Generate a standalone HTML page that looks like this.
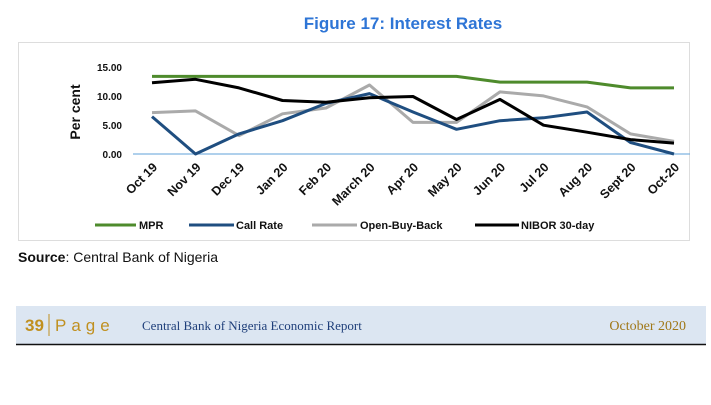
<!DOCTYPE html>
<html><head><meta charset="utf-8"><style>
body{margin:0;width:711px;height:400px;background:#fff;overflow:hidden;font-family:"Liberation Sans",sans-serif;}
</style></head><body>
<svg width="711" height="400" xmlns="http://www.w3.org/2000/svg" font-family="Liberation Sans, sans-serif">
<text x="403" y="29" text-anchor="middle" font-size="17" font-weight="bold" fill="#2e75d6">Figure 17: Interest Rates</text>
<rect x="18.5" y="42.5" width="671" height="198" fill="#fff" stroke="#ddd"/>
<g font-size="10" font-weight="bold" fill="#111" text-anchor="end">
<text x="122" y="71">15.00</text><text x="122" y="100">10.00</text><text x="122" y="129">5.00</text><text x="122" y="158">0.00</text>
</g>
<text transform="translate(80,112) rotate(-90)" text-anchor="middle" font-size="14" font-weight="bold" fill="#111">Per cent</text>
<line x1="133" y1="154" x2="690" y2="154" stroke="#7fb3e0" stroke-width="1.2"/>
<g fill="none" stroke-width="3" stroke-linejoin="round">
<polyline stroke="#4e8b2c" points="152,76.4 195.5,76.4 239,76.4 282.5,76.4 326,76.4 369.5,76.4 413,76.4 456.5,76.4 500,82.1 543.5,82.1 587,82.1 630.5,87.9 674,87.9"/>
<polyline stroke="#aaa" points="152,112.6 195.5,110.9 239,135.6 282.5,113.8 326,108 369.5,85 413,122.4 456.5,122.4 500,91.9 543.5,95.9 587,106.9 630.5,133.9 674,141.4"/>
<polyline stroke="#1f4e80" points="152,116.6 195.5,154 239,133.9 282.5,120.7 326,103.4 369.5,93.6 413,112 456.5,129.3 500,120.7 543.5,117.8 587,112 630.5,142.5 674,154"/>
<polyline stroke="#000" points="152,82.7 195.5,79.3 239,87.9 282.5,100.5 326,102.3 369.5,97.7 413,96.5 456.5,119.5 500,99.4 543.5,125.2 587,132.2 630.5,139.6 674,143.1"/>
</g>
<g font-size="12.5" font-weight="bold" fill="#111" text-anchor="end">
<text transform="translate(158,168) rotate(-45)">Oct 19</text>
<text transform="translate(201.5,168) rotate(-45)">Nov 19</text>
<text transform="translate(245,168) rotate(-45)">Dec 19</text>
<text transform="translate(288.5,168) rotate(-45)">Jan 20</text>
<text transform="translate(332,168) rotate(-45)">Feb 20</text>
<text transform="translate(375.5,168) rotate(-45)">March 20</text>
<text transform="translate(419,168) rotate(-45)">Apr 20</text>
<text transform="translate(462.5,168) rotate(-45)">May 20</text>
<text transform="translate(506,168) rotate(-45)">Jun 20</text>
<text transform="translate(549.5,168) rotate(-45)">Jul 20</text>
<text transform="translate(593,168) rotate(-45)">Aug 20</text>
<text transform="translate(636.5,168) rotate(-45)">Sept 20</text>
<text transform="translate(680,168) rotate(-45)">Oct-20</text>
</g>
<g stroke-width="3">
<line x1="95" y1="225" x2="136" y2="225" stroke="#4e8b2c"/>
<line x1="189" y1="225" x2="234" y2="225" stroke="#1f4e80"/>
<line x1="312" y1="225" x2="357" y2="225" stroke="#aaa"/>
<line x1="475" y1="225" x2="519" y2="225" stroke="#000"/>
</g>
<g font-size="11" font-weight="bold" fill="#111">
<text x="139" y="229">MPR</text><text x="236" y="229">Call Rate</text><text x="360" y="229">Open-Buy-Back</text><text x="521" y="229">NIBOR 30-day</text>
</g>
<text x="18" y="262" font-size="14" fill="#111"><tspan font-weight="bold">Source</tspan>: Central Bank of Nigeria</text>
<rect x="16" y="306" width="690" height="38" fill="#dce6f2"/>
<line x1="16" y1="344.5" x2="706" y2="344.5" stroke="#111" stroke-width="1.5"/>
<text x="25" y="331" font-size="17" font-weight="bold" fill="#c09020">39</text>
<line x1="49" y1="314" x2="49" y2="336" stroke="#c09020"/>
<text x="55" y="331" font-size="17" fill="#c09020" letter-spacing="5">Page</text>
<text x="142" y="330" font-family="Liberation Serif, serif" font-size="13" fill="#1f3f7a">Central Bank of Nigeria Economic Report</text>
<text x="686" y="330" text-anchor="end" font-family="Liberation Serif, serif" font-size="14" fill="#a07818">October 2020</text>
</svg>
</body></html>
